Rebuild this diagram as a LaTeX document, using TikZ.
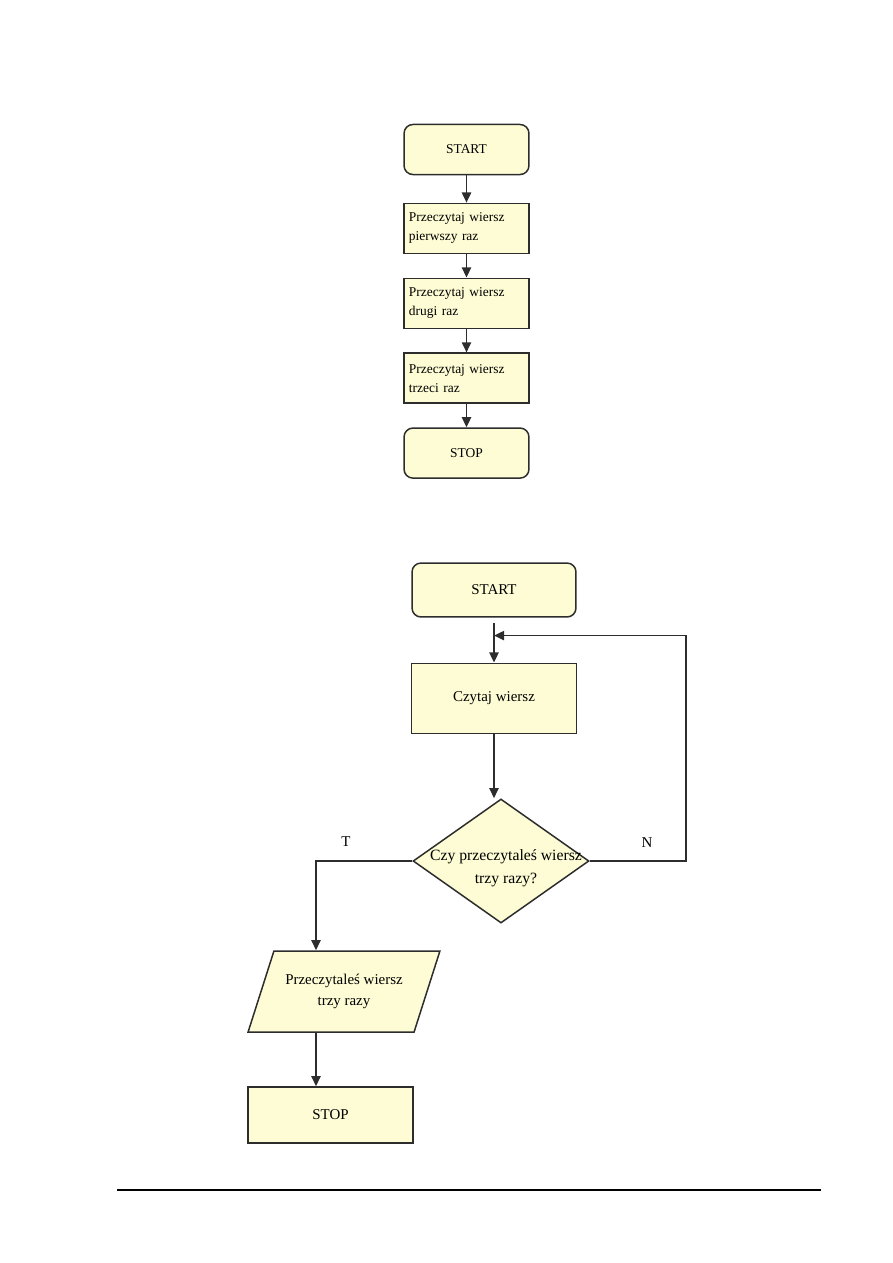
\documentclass[tikz,border=0pt]{standalone}
\usepackage{fontspec}
\setmainfont{Liberation Serif}
\usetikzlibrary{positioning,calc,shapes.geometric,arrows.meta}
\definecolor{bladozolty}{RGB}{253,252,212}
\definecolor{obrys}{RGB}{45,45,45}

\begin{document}
\begin{tikzpicture}[
    x=0.669pt, y=-0.669pt,
    node distance=15.6pt,
    termnode/.style={rectangle, rounded corners=6pt, draw=obrys, fill=bladozolty, line width=1pt, minimum width=83.6pt, minimum height=33.5pt, inner sep=2pt, font=\fontsize{9}{12.7}\selectfont},
    procnode/.style={rectangle, draw=obrys, fill=bladozolty, line width=1pt, minimum width=83.6pt, minimum height=33.5pt, text width=77pt, inner sep=3.3pt, align=left, font=\fontsize{9}{12.7}\selectfont},
    bigterm/.style={termnode, minimum width=109.7pt, minimum height=36.1pt, font=\fontsize{10}{14}\selectfont},
    bigproc/.style={rectangle, draw=obrys, fill=bladozolty, line width=1pt, minimum width=110.4pt, minimum height=46.8pt, font=\fontsize{10}{14}\selectfont},
    decnode/.style={diamond, draw=obrys, fill=bladozolty, line width=1pt, minimum width=117.7pt, minimum height=83pt, inner sep=0pt},
    ionode/.style={trapezium, trapezium left angle=59.4, trapezium right angle=120.6, trapezium stretches=true, draw=obrys, fill=bladozolty, line width=1pt, minimum width=128.4pt, minimum height=54.2pt, inner sep=1pt, align=center, font=\fontsize{10}{14}\selectfont},
    branchlabel/.style={font=\fontsize{10}{12}\selectfont},
    arr/.style={draw=obrys, line width=1.1pt, -{Triangle[length=6.8pt,width=6.2pt]}}
]
\useasboundingbox (0,0) rectangle (893,1263);

% --- First chart: reading three times in a row ---
\node[termnode] (start1) at (466.5,149.5) {START};
\node[procnode, below=18.3pt of start1] (raz1) {Przeczytaj wiersz\\pierwszy raz};
\node[procnode, below=of raz1] (raz2) {Przeczytaj wiersz\\drugi raz};
\node[procnode, below=of raz2] (raz3) {Przeczytaj wiersz\\trzeci raz};
\node[termnode, below=of raz3] (stop1) {STOP};

\foreach \a/\b in {start1/raz1,raz1/raz2,raz2/raz3,raz3/stop1}{
  \draw[arr] (\a) -- (\b);
}

% --- Second chart: loop with a decision ---
\node[bigterm] (start2) at (494,590) {START};
\node[bigproc, below=30pt of start2] (czytaj) {Czytaj wiersz};
\node[decnode] (decyzja) at (501,861) {};
\node[align=center, font=\fontsize{10.5}{15.4}\selectfont] (pytanie) at ($(decyzja)+(5,7)$) {Czy przeczytaleś wiersz\\trzy razy?};
\node[ionode] (wynik) at (344,991.5) {Przeczytaleś wiersz\\trzy razy};
\node[bigproc, minimum height=37.5pt] (stop2) at (330.5,1115) {STOP};

\coordinate (powrot) at ($(czytaj.north)+(0,-27)$);
\coordinate (tak) at (316,861);

\draw[arr, shorten <=3.3pt] (start2.south) -- (czytaj.north);
\draw[arr] (czytaj.south) -- (czytaj.south |- decyzja.north);
\draw[arr] (decyzja.east) -- ++(96,0) |- (powrot);
\draw[arr] (decyzja.west) -| (tak |- wynik.north);
\draw[arr] (tak |- wynik.south) -- (tak |- stop2.north);

\node[branchlabel] (etykietaT) at (346,842) {T};
\node[branchlabel] (etykietaN) at (647,843) {N};

% page rule
\draw[line width=0.7pt] (117,1190) -- (821,1190);

\end{tikzpicture}
\end{document}
